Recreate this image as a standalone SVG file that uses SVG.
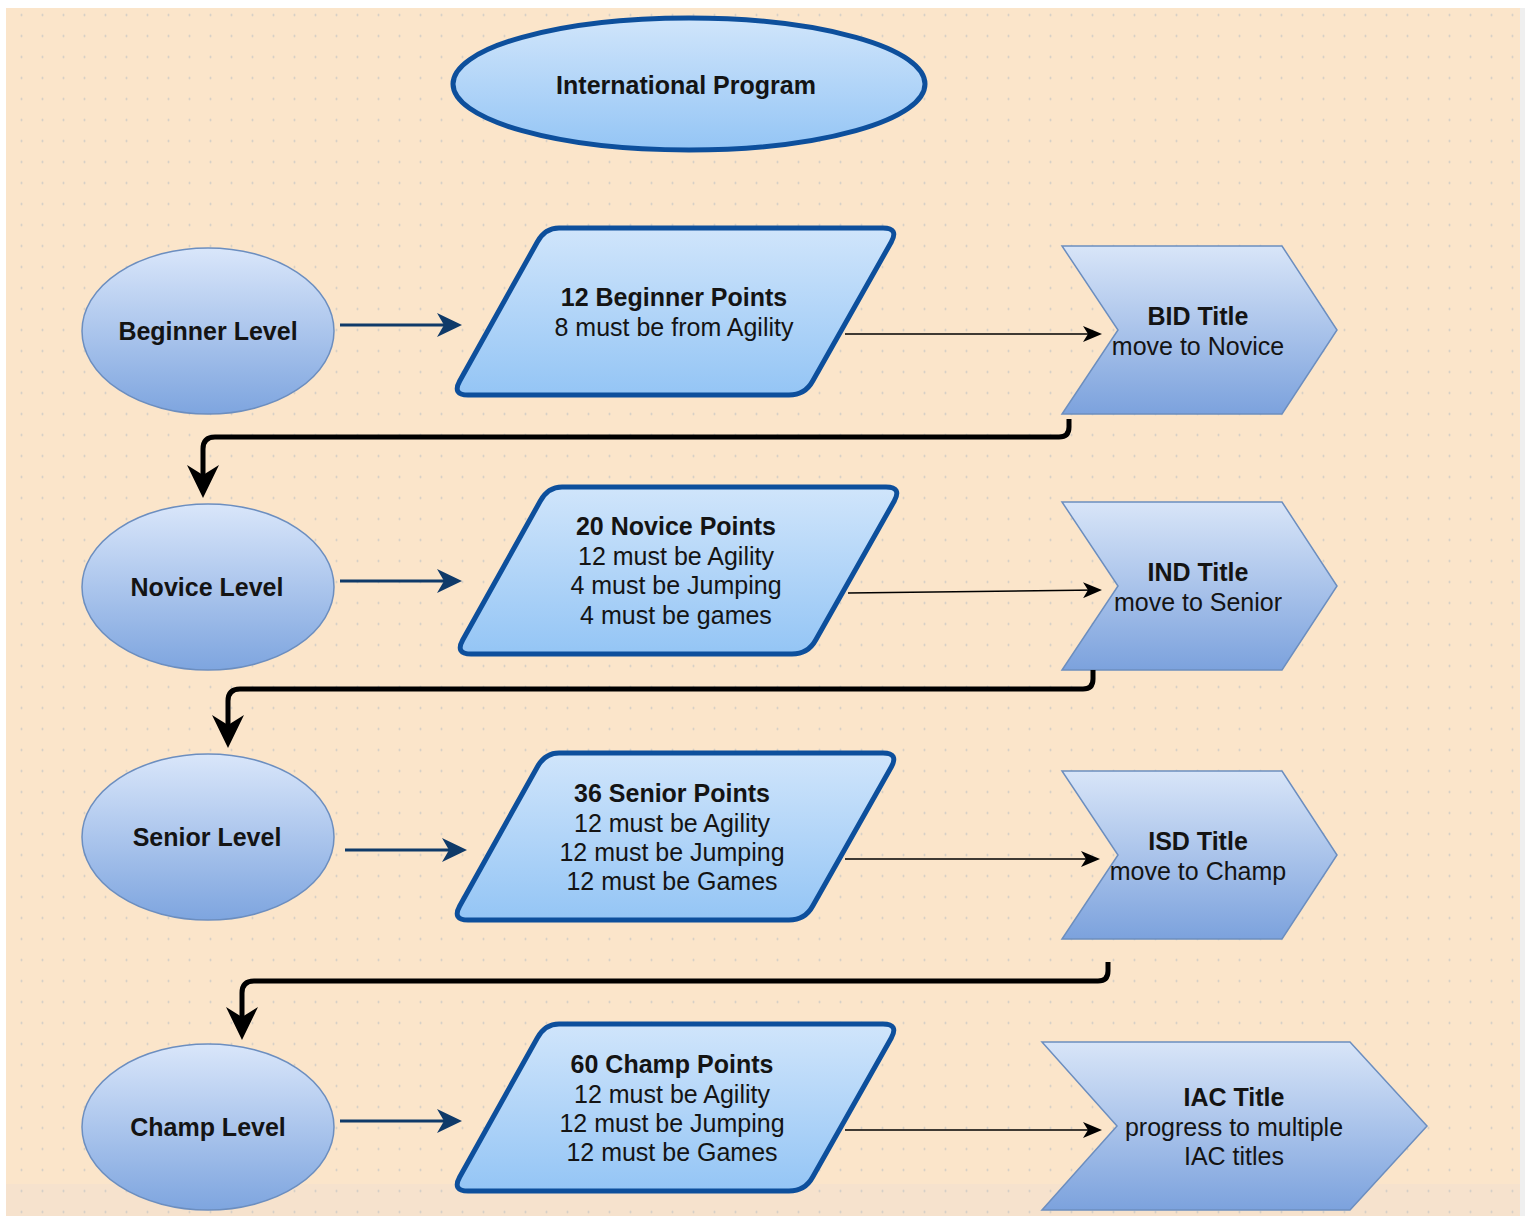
<svg xmlns="http://www.w3.org/2000/svg" width="1525" height="1216" viewBox="0 0 1525 1216">
<defs>
  <pattern id="dots" x="11" y="4.5" width="21" height="21" patternUnits="userSpaceOnUse">
    <circle cx="10.5" cy="10.5" r="1" fill="#c9c7c4"/>
  </pattern>
  <linearGradient id="gEll" x1="0" y1="0" x2="0" y2="1">
    <stop offset="0" stop-color="#d9e6fa"/>
    <stop offset="1" stop-color="#7ea5df"/>
  </linearGradient>
  <linearGradient id="gPar" x1="0" y1="0" x2="0" y2="1">
    <stop offset="0" stop-color="#d0e5fb"/>
    <stop offset="1" stop-color="#94c5f5"/>
  </linearGradient>
  <linearGradient id="gChev" x1="0" y1="0" x2="0" y2="1">
    <stop offset="0" stop-color="#d8e5f8"/>
    <stop offset="1" stop-color="#7ca2dd"/>
  </linearGradient>
  <path id="para" d="M107,0 L431,0 Q447,0 439.3,14 L360.7,153 Q353,167 337,167 L16,167 Q0,167 7.7,153 L85.3,14 Q93,0 107,0 Z"/>
  <path id="chev" d="M0,0 L220,0 L275,84 L220,168 L0,168 L56,84 Z"/>
  <marker id="mBlue" viewBox="0 0 25 24" markerWidth="25" markerHeight="24" refX="17" refY="12" orient="auto" markerUnits="userSpaceOnUse">
    <path d="M0,0 L25,12 L0,24 L7,12 Z" fill="#0f3a69"/>
  </marker>
  <marker id="mThin" viewBox="0 0 19 16" markerWidth="19" markerHeight="16" refX="14" refY="8" orient="auto" markerUnits="userSpaceOnUse">
    <path d="M0,0 L19,8 L0,16 L5,8 Z" fill="#000"/>
  </marker>
  <marker id="mThick" viewBox="0 0 33 32" markerWidth="33" markerHeight="32" refX="22" refY="16" orient="auto" markerUnits="userSpaceOnUse">
    <path d="M0,0 L33,16 L0,32 L10,16 Z" fill="#000"/>
  </marker>
</defs>
<style>
  text { font-family: "Liberation Sans", Arial, sans-serif; font-size: 25px; fill: #141414; text-anchor: middle; }
  .b { font-weight: bold; }
  .lvl { fill: url(#gEll); stroke: #6c8ebf; stroke-width: 1.5; }
  .par { fill: url(#gPar); stroke: #0d4f9c; stroke-width: 5; }
  .chev { fill: url(#gChev); stroke: #6c8ebf; stroke-width: 1.5; }
  .blue { stroke: #0f3a69; stroke-width: 3; fill: none; marker-end: url(#mBlue); }
  .thin { stroke: #000; stroke-width: 1.6; fill: none; marker-end: url(#mThin); }
  .thick { stroke: #000; stroke-width: 5; fill: none; marker-end: url(#mThick); }
</style>

<rect x="0" y="0" width="1525" height="1216" fill="#ffffff"/>
<rect x="1520" y="8" width="5" height="1208" fill="#efefef"/>
<rect x="6" y="8" width="1514" height="1208" fill="#fbe5ca"/>
<rect x="6" y="1184" width="1514" height="32" fill="#f6e2cd"/>
<rect x="6" y="8" width="1514" height="1208" fill="url(#dots)"/>

<g id="international-program">
  <ellipse cx="689" cy="84" rx="236" ry="66" fill="url(#gPar)" stroke="#0d4f9c" stroke-width="5"/>
  <text class="b" x="686" y="94">International Program</text>
</g>

<g id="beginner-level">
  <ellipse class="lvl" cx="208" cy="331" rx="126" ry="83"/>
  <text class="b" x="208" y="340">Beginner Level</text>
</g>
<g id="novice-level">
  <ellipse class="lvl" cx="208" cy="587" rx="126" ry="83"/>
  <text class="b" x="207" y="596">Novice Level</text>
</g>
<g id="senior-level">
  <ellipse class="lvl" cx="208" cy="837" rx="126" ry="83"/>
  <text class="b" x="207" y="846">Senior Level</text>
</g>
<g id="champ-level">
  <ellipse class="lvl" cx="208" cy="1127" rx="126" ry="83"/>
  <text class="b" x="208" y="1136">Champ Level</text>
</g>

<g id="beginner-points">
  <use href="#para" class="par" transform="translate(452,228)"/>
  <text class="b" x="674" y="306">12 Beginner Points</text>
  <text x="674" y="336">8 must be from Agility</text>
</g>
<g id="novice-points">
  <use href="#para" class="par" transform="translate(455,487)"/>
  <text class="b" x="676" y="535">20 Novice Points</text>
  <text x="676" y="565">12 must be Agility</text>
  <text x="676" y="594">4 must be Jumping</text>
  <text x="676" y="624">4 must be games</text>
</g>
<g id="senior-points">
  <use href="#para" class="par" transform="translate(452,753)"/>
  <text class="b" x="672" y="802">36 Senior Points</text>
  <text x="672" y="832">12 must be Agility</text>
  <text x="672" y="861">12 must be Jumping</text>
  <text x="672" y="890">12 must be Games</text>
</g>
<g id="champ-points">
  <use href="#para" class="par" transform="translate(452,1024)"/>
  <text class="b" x="672" y="1073">60 Champ Points</text>
  <text x="672" y="1103">12 must be Agility</text>
  <text x="672" y="1132">12 must be Jumping</text>
  <text x="672" y="1161">12 must be Games</text>
</g>

<g id="bid-title">
  <use href="#chev" class="chev" transform="translate(1062,246)"/>
  <text class="b" x="1198" y="325">BID Title</text>
  <text x="1198" y="355">move to Novice</text>
</g>
<g id="ind-title">
  <use href="#chev" class="chev" transform="translate(1062,502)"/>
  <text class="b" x="1198" y="581">IND Title</text>
  <text x="1198" y="611">move to Senior</text>
</g>
<g id="isd-title">
  <use href="#chev" class="chev" transform="translate(1062,771)"/>
  <text class="b" x="1198" y="850">ISD Title</text>
  <text x="1198" y="880">move to Champ</text>
</g>
<g id="iac-title">
  <path class="chev" d="M1042,1042 L1350,1042 L1427,1126 L1350,1210 L1042,1210 L1117,1126 Z"/>
  <text class="b" x="1234" y="1106">IAC Title</text>
  <text x="1234" y="1136">progress to multiple</text>
  <text x="1234" y="1165">IAC titles</text>
</g>

<g id="connectors">
  <path class="blue" d="M340,325 L454,325"/>
  <path class="blue" d="M340,581 L454,581"/>
  <path class="blue" d="M345,850 L459,850"/>
  <path class="blue" d="M340,1121 L454,1121"/>

  <path class="thin" d="M845,334 L1097,334"/>
  <path class="thin" d="M848,593 L1097,590"/>
  <path class="thin" d="M845,859 L1095,859"/>
  <path class="thin" d="M845,1130 L1097,1130"/>

  <path class="thick" d="M1069,419 L1069,427 Q1069,437 1059,437 L215,437 Q203,437 203,449 L203,487"/>
  <path class="thick" d="M1093,670 L1093,679 Q1093,689 1083,689 L240,689 Q228,689 228,701 L228,737"/>
  <path class="thick" d="M1108,962 L1108,971 Q1108,981 1098,981 L254,981 Q242,981 242,993 L242,1029"/>
</g>
</svg>
